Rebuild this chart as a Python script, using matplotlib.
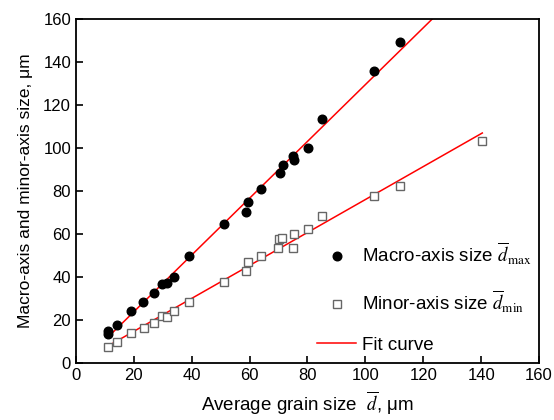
import numpy as np
import matplotlib
matplotlib.use("Agg")
import matplotlib.pyplot as plt

plt.rcParams['font.family'] = ['Liberation Sans', 'DejaVu Sans']
plt.rcParams['mathtext.fontset'] = 'stix'

# Macro-axis data (average grain size, macro-axis size)
macro_x = [11.2, 11.2, 14.1, 19.2, 23.3, 27.1, 29.6, 31.3, 33.8, 39.0, 51.1,
           58.6, 59.5, 63.8, 70.5, 71.4, 74.9, 75.3, 80.3, 85.1, 103.1, 112.0]
macro_y = [13.6, 15.0, 17.7, 23.9, 28.2, 32.7, 36.7, 37.1, 40.1, 49.8, 64.8,
           70.2, 74.7, 80.9, 88.2, 92.1, 96.0, 94.4, 99.9, 113.5, 135.8, 149.1]

# Minor-axis data
minor_x = [11.2, 14.1, 19.2, 23.5, 27.1, 29.6, 31.3, 33.8, 39.0, 51.1, 58.6,
           59.5, 63.8, 69.9, 70.3, 71.2, 74.9, 75.4, 80.3, 85.1, 103.1, 112.0, 140.4]
minor_y = [7.6, 9.9, 14.1, 16.4, 18.5, 22.0, 21.2, 23.9, 28.5, 37.4, 42.9,
           46.8, 49.5, 53.3, 57.5, 58.0, 53.3, 59.9, 62.2, 68.5, 77.7, 82.5, 103.4]

fit_range = [11.2, 140.4]

xticks = [0, 20, 40, 60, 80, 100, 120, 140, 160]
yticks = [0, 20, 40, 60, 80, 100, 120, 140, 160]

fig = plt.figure(figsize=(5.54, 4.2), dpi=100)
ax = fig.add_axes([0.137, 0.136, 0.836, 0.819])

ax.plot(macro_x, macro_y, 'o', color='black', markersize=6.2, linestyle='none',
        label=r'Macro-axis size $\overline{d}_{\rm max}$', zorder=3)
ax.plot(minor_x, minor_y, 's', markerfacecolor='white', markeredgecolor='#666666',
        markeredgewidth=1.0, markersize=6, linestyle='none',
        label=r'Minor-axis size $\overline{d}_{\rm min}$', zorder=3)

xf = np.array(fit_range)
p1 = np.polyfit(macro_x, macro_y, 1)
p2 = np.polyfit(minor_x, minor_y, 1)
ax.plot(xf, np.polyval(p1, xf), color='red', lw=1.1, label='Fit curve', zorder=2)
ax.plot(xf, np.polyval(p2, xf), color='red', lw=1.1, zorder=2)

ax.set_xlim(0, 160)
ax.set_ylim(0, 160)
ax.set_xticks(xticks)
ax.set_yticks(yticks)
ax.tick_params(direction='in', length=5, width=1.2, labelsize=12, top=False, right=False)
for s in ax.spines.values():
    s.set_linewidth(1.3)

ax.set_xlabel(r'Average grain size  $\overline{d}$, μm', fontsize=13.5, labelpad=5)
ax.set_ylabel('Macro-axis and minor-axis size, μm', fontsize=12.5, labelpad=7)

leg = ax.legend(loc='lower right', bbox_to_anchor=(1.012, -0.012), frameon=False,
                fontsize=13.5, handlelength=2.1, labelspacing=1.15, handletextpad=0.3,
                borderaxespad=0.3)

fig.savefig('out.png', dpi=100)
